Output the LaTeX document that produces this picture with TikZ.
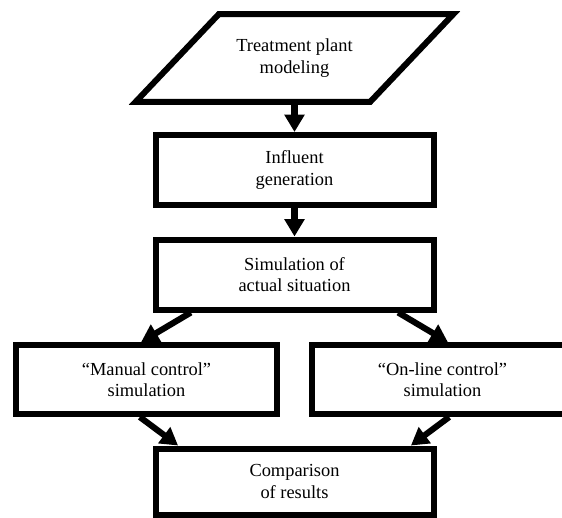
\documentclass[tikz,border=0pt]{standalone}
\usepackage{fontspec}
\setmainfont{Liberation Serif}
\usepackage{tikz}
\usetikzlibrary{arrows.meta, positioning, calc}

\newcommand{\flowfont}{\fontsize{13.8pt}{16pt}\selectfont}

\tikzset{
  flowbox/.style={draw=black, line width=4.5pt, fill=white, align=center, inner sep=0pt, font=\flowfont, minimum width=208.5pt, minimum height=52.5pt},
  sidebox/.style={flowbox, minimum width=195.75pt, minimum height=51.75pt},
  inputbox/.style={align=center, inner sep=0pt, font=\flowfont, minimum width=237.75pt, minimum height=65.25pt},
  flowarrow/.style={line width=4.6pt, -{Triangle[length=13pt, width=14.5pt]}}
}

\begin{document}
\begin{tikzpicture}[x=0.75pt, y=-0.75pt]
  \path[use as bounding box, fill=white] (0,0) rectangle (562,518);

  % Input (parallelogram)
  \node[inputbox] (model) at (294.5,58) {Treatment plant\\modeling};
  \draw[line width=4.5pt] ($(model.north west)+(83,0)$) -- (model.north east)
    -- ($(model.south east)-(83,0)$) -- (model.south west) -- cycle;

  % Main column
  \node[flowbox] (influent) at (294.5,170) {Influent\\generation};
  \node[flowbox] (sim) at (294.5,274.5) {Simulation of\\actual situation};

  % Two control cases
  \node[sidebox] (manual) at (146.5,379.5) {“Manual control”\\simulation};
  \node[sidebox] (online) at (442.5,379.5) {“On-line control”\\simulation};

  % Result
  \node[flowbox, minimum height=49.5pt] (compare) at (294.5,481.5) {Comparison\\of results};

  % Arrows
  \draw[flowarrow] (model.south) -- (influent.north);
  \draw[flowarrow] (influent.south) -- (sim.north);
  \draw[flowarrow] ($(sim.south west)!0.135!(sim.south east)$) -- ($(manual.north west)!0.48!(manual.north east)$);
  \draw[flowarrow] ($(sim.south west)!0.865!(sim.south east)$) -- ($(online.north west)!0.52!(online.north east)$);
  \draw[flowarrow] ($(manual.south west)!0.475!(manual.south east)$) -- ($(compare.north west)!0.09!(compare.north east)$);
  \draw[flowarrow] ($(online.south west)!0.525!(online.south east)$) -- ($(compare.north west)!0.91!(compare.north east)$);
\end{tikzpicture}
\end{document}
